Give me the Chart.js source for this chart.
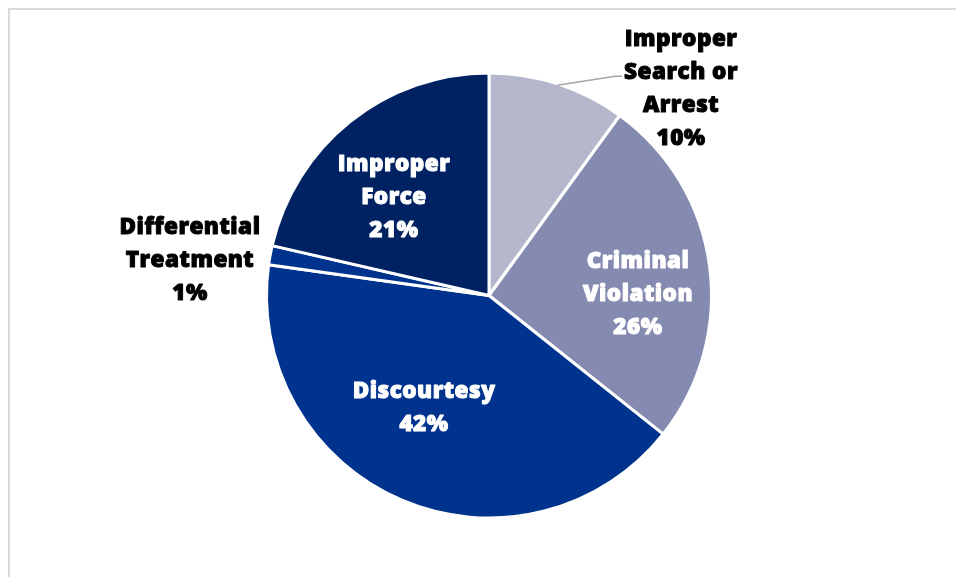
<!DOCTYPE html>
<html>
<head>
<meta charset="utf-8">
<script src="https://cdn.jsdelivr.net/npm/chart.js@4"></script>
<style>
  html, body { margin: 0; padding: 0; background: #fff; overflow: hidden; }
  #frame { position: absolute; left: 8px; top: 8px; width: 1000px; height: 700px; border: 2px solid #d9d9d9; }
  #wrap { position: absolute; left: 0; top: 0; width: 956px; height: 577px; }
</style>
</head>
<body>
<div id="frame"></div>
<div id="wrap"><canvas id="complaintChart"></canvas></div>
<script>
// complaint categories, clockwise from 12 o'clock
const categories = [
    ['Improper', 'Search or', 'Arrest'],
    ['Criminal', 'Violation'],
    ['Discourtesy'],
    ['Differential', 'Treatment'],
    ['Improper', 'Force']
];
const shares = [10.0, 25.7, 41.5, 1.4, 21.4];
const sliceColors = ['#b5b8cd', '#858bb0', '#00338e', '#00338e', '#002262'];
const labelColors = ['#000000', '#ffffff', '#ffffff', '#000000', '#ffffff'];

// label block centre, as a fraction of the radius from the pie centre
const labelOffsets = [[0.869, -0.945], [0.674, -0.015], [-0.294, 0.502], [-1.353, -0.165], [-0.43, -0.45]];

const LINE_H = 33;
const FONT = '800 22.5px "Open Sans", sans-serif';

const sliceLabels = {
    id: 'sliceLabels',
    afterDatasetsDraw(chart) {
        const ctx = chart.ctx;
        const meta = chart.getDatasetMeta(0);
        ctx.save();
        ctx.font = FONT;
        ctx.letterSpacing = '0.5px';
        ctx.textAlign = 'center';
        ctx.textBaseline = 'middle';
        ctx.lineJoin = 'round';
        meta.data.forEach((arc, i) => {
            const {x, y, outerRadius, startAngle, endAngle} = arc.getProps(['x', 'y', 'outerRadius', 'startAngle', 'endAngle'], true);
            const r = outerRadius - 1.5;
            const lines = categories[i].concat(Math.round(shares[i]) + '%');
            const cx = x + labelOffsets[i][0] * r;
            const cy = y + labelOffsets[i][1] * r + 2;
            const top = cy - (lines.length - 1) * LINE_H / 2;

            // leader line for the label that sits above the pie
            if (i === 0) {
                const mid = (startAngle + endAngle) / 2;
                const w = Math.max(...lines.map(l => ctx.measureText(l).width));
                const ex = cx - w / 2 - 2;
                const ey = top + LINE_H + 4;
                ctx.strokeStyle = '#a6a6a6';
                ctx.lineWidth = 1.5;
                ctx.beginPath();
                ctx.moveTo(x + Math.cos(mid) * r, y + Math.sin(mid) * r);
                ctx.lineTo(ex - 7, ey);
                ctx.lineTo(ex, ey);
                ctx.stroke();
            }

            // heavy lettering: fill plus a thin stroke of the same colour
            ctx.fillStyle = labelColors[i];
            ctx.strokeStyle = labelColors[i];
            ctx.lineWidth = 1;
            lines.forEach((line, k) => {
                ctx.fillText(line, cx, top + k * LINE_H);
                ctx.strokeText(line, cx, top + k * LINE_H);
            });
        });
        ctx.restore();
    }
};

new Chart(document.getElementById('complaintChart'), {
    type: 'pie',
    data: {
        labels: categories.map(c => c.join(' ')),
        datasets: [{
            data: shares,
            backgroundColor: sliceColors,
            borderColor: '#ffffff',
            borderWidth: 3
        }]
    },
    options: {
        responsive: true,
        maintainAspectRatio: false,
        animation: false,
        radius: 222.5,
        layout: {
            padding: {left: 22, right: 0, top: 14, bottom: 0}
        },
        plugins: {
            legend: {display: false},
            tooltip: {enabled: false}
        }
    },
    plugins: [sliceLabels]
});
</script>
</body>
</html>
